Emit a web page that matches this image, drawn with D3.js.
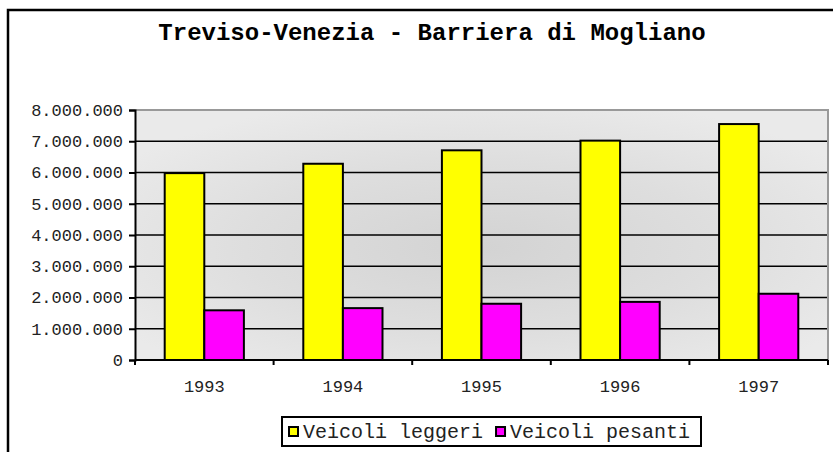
<!DOCTYPE html>
<html>
<head>
<meta charset="utf-8">
<script src="https://cdn.jsdelivr.net/npm/d3@7"></script>
<style>
  html, body { margin: 0; padding: 0; background: #fff; }
  svg { display: block; }
  text { font-family: "Liberation Mono", "Courier New", monospace; }
</style>
</head>
<body>
<svg id="chart" width="833" height="452"></svg>
<script>
// Traffic at the Mogliano toll barrier, by year
const years = ["1993", "1994", "1995", "1996", "1997"];
const seriesNames = ["Veicoli leggeri", "Veicoli pesanti"];
const leggeri = [5980000, 6280000, 6710000, 7020000, 7550000];
const pesanti = [1590000, 1660000, 1800000, 1860000, 2120000];
const yTicks = [0, 1000000, 2000000, 3000000, 4000000, 5000000, 6000000, 7000000, 8000000];
const colors = ["#ffff00", "#ff00ff"];

const svg = d3.select("#chart");
const W = 833, H = 452;
const plot = { left: 135, right: 828, top: 110, bottom: 360 };

const itFormat = d3.formatLocale({ decimal: ",", thousands: ".", grouping: [3], currency: ["", ""] }).format(",");

// Outer chart frame (continues past the right and bottom edges)
svg.append("rect")
  .attr("x", 8).attr("y", 10).attr("width", W + 10).attr("height", H + 10)
  .attr("fill", "#fff").attr("stroke", "#000").attr("stroke-width", 2.5);

// Title
svg.append("text")
  .attr("x", 432).attr("y", 40)
  .attr("text-anchor", "middle")
  .attr("font-size", 24).attr("font-weight", "bold")
  .attr("fill", "#000")
  .text("Treviso-Venezia - Barriera di Mogliano");

// Scales
const x = d3.scaleBand().domain(years).range([plot.left, plot.right]).padding(0);
const bw = x.bandwidth();
const xs = d3.scaleBand().domain(seriesNames)
  .range([bw * 0.75 / 3.5, bw * 2.75 / 3.5]).padding(0);
const y = d3.scaleLinear().domain([0, 8000000]).range([plot.bottom, plot.top]);

// Plot background with a soft centre-darkening gradient
const defs = svg.append("defs");
const grad = defs.append("radialGradient").attr("id", "bg")
  .attr("cx", "0.5").attr("cy", "0.55").attr("r", "0.62");
grad.append("stop").attr("offset", "0%").attr("stop-color", "#d3d3d3");
grad.append("stop").attr("offset", "55%").attr("stop-color", "#dedede");
grad.append("stop").attr("offset", "100%").attr("stop-color", "#eaeaea");

svg.append("rect")
  .attr("x", plot.left).attr("y", plot.top)
  .attr("width", plot.right - plot.left).attr("height", plot.bottom - plot.top)
  .attr("fill", "url(#bg)");

// Horizontal gridlines
svg.append("g").selectAll("line")
  .data(yTicks.filter(v => v > 0 && v < 8000000))
  .join("line")
  .attr("x1", plot.left).attr("x2", plot.right)
  .attr("y1", d => y(d)).attr("y2", d => y(d))
  .attr("stroke", "#000").attr("stroke-width", 1.6);

// Plot border (top and right)
svg.append("path")
  .attr("d", `M${plot.left},${plot.top}H${plot.right}V${plot.bottom}`)
  .attr("fill", "none").attr("stroke", "#999").attr("stroke-width", 2);

// Bars
const rows = years.map((yr, i) => ({ year: yr, values: [leggeri[i], pesanti[i]] }));
const groups = svg.append("g").selectAll("g")
  .data(rows).join("g")
  .attr("transform", d => `translate(${x(d.year)},0)`);
groups.selectAll("rect")
  .data(d => d.values.map((v, j) => ({ name: seriesNames[j], value: v, color: colors[j] })))
  .join("rect")
  .attr("x", d => xs(d.name))
  .attr("width", xs.bandwidth())
  .attr("y", d => y(d.value))
  .attr("height", d => y(0) - y(d.value))
  .attr("fill", d => d.color)
  .attr("stroke", "#000").attr("stroke-width", 2);

// Y axis
const yAxis = svg.append("g")
  .attr("transform", `translate(${plot.left},0)`)
  .call(d3.axisLeft(y).tickValues(yTicks).tickFormat(itFormat).tickSize(6).tickPadding(6));
yAxis.select(".domain").attr("stroke", "#000").attr("stroke-width", 2);
yAxis.selectAll(".tick line").attr("stroke", "#000").attr("stroke-width", 2);
yAxis.selectAll(".tick text")
  .attr("font-family", "Liberation Mono, Courier New, monospace")
  .attr("font-size", 17).attr("fill", "#222");

// X axis: ticks at category boundaries
const xAxisG = svg.append("g").attr("transform", `translate(0,${plot.bottom})`);
xAxisG.append("line")
  .attr("x1", plot.left).attr("x2", plot.right)
  .attr("stroke", "#000").attr("stroke-width", 2);
xAxisG.selectAll("line.tk")
  .data(years.map(d => x(d)).concat([plot.right]))
  .join("line").attr("class", "tk")
  .attr("x1", d => d).attr("x2", d => d)
  .attr("y1", 0).attr("y2", 5)
  .attr("stroke", "#000").attr("stroke-width", 2);
xAxisG.selectAll("text")
  .data(years).join("text")
  .attr("x", d => x(d) + bw / 2).attr("y", 32)
  .attr("text-anchor", "middle")
  .attr("font-size", 17).attr("fill", "#222")
  .text(d => d);

// Legend
const lg = svg.append("g");
const lgBox = lg.append("rect")
  .attr("fill", "#fff").attr("stroke", "#000").attr("stroke-width", 2);
let cx = 289;
const lgY = 438;
seriesNames.forEach((name, j) => {
  lg.append("rect")
    .attr("x", cx).attr("y", 427).attr("width", 9).attr("height", 9)
    .attr("fill", colors[j]).attr("stroke", "#000").attr("stroke-width", 2);
  const t = lg.append("text")
    .attr("x", cx + 14).attr("y", lgY)
    .attr("font-size", 20).attr("fill", "#222")
    .text(name);
  cx = cx + 14 + t.node().getComputedTextLength() + 13;
});
lgBox.attr("x", 282).attr("y", 417).attr("width", 701 - 282).attr("height", 29);
</script>
</body>
</html>
